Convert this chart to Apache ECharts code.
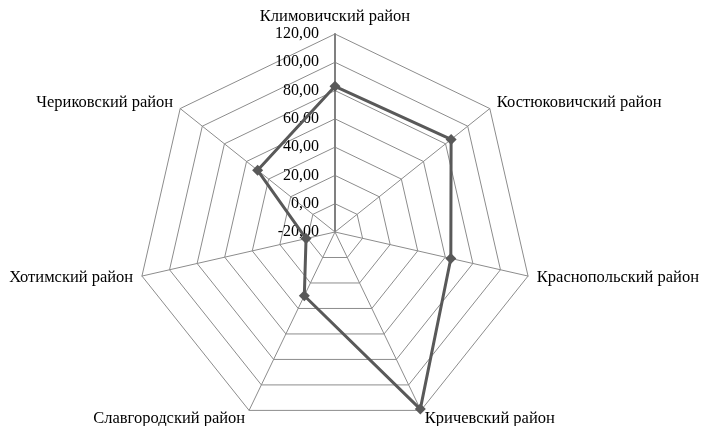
<!DOCTYPE html>
<html>
<head>
<meta charset="utf-8">
<script src="https://cdn.jsdelivr.net/npm/echarts@6/dist/echarts.min.js"></script>
<style>
  html, body { margin: 0; padding: 0; background: #fff; }
  #chart { width: 702px; height: 426px; }
</style>
</head>
<body>
<div id="chart"></div>
<script>
// районы (по часовой стрелке от верха)
const districts = [
  'Климовичский район',
  'Костюковичский район',
  'Краснопольский район',
  'Кричевский район',
  'Славгородский район',
  'Хотимский район',
  'Чериковский район'
];
const values = [83, 85, 64, 119, 30, 1, 50];
const axisMin = -20;
const axisMax = 120;

// echarts рисует радар против часовой стрелки, поэтому переставляем оси
const order = [0, 6, 5, 4, 3, 2, 1];

const chart = echarts.init(document.getElementById('chart'));
const font = '"Liberation Serif", "Times New Roman", serif';

const option = {
  animation: false,
  textStyle: { fontFamily: font },
  radar: {
    center: [335, 232],
    radius: 198,
    startAngle: 90,
    splitNumber: 7,
    shape: 'polygon',
    nameGap: 9,
    axisName: { color: '#000', fontSize: 16.5, fontFamily: font },
    splitArea: { show: false },
    splitLine: { lineStyle: { color: '#8c8c8c', width: 1 } },
    axisLine: { lineStyle: { color: '#8c8c8c', width: 1 } },
    axisTick: { show: false },
    axisLabel: {
      show: false,
      color: '#000',
      fontSize: 16,
      fontFamily: font,
      margin: 16,
      formatter: v => v.toFixed(2).replace('.', ',')
    },
    indicator: order.map((k, i) => ({
      name: districts[k],
      min: axisMin,
      max: axisMax,
      // подписи шкалы только на первой оси
      axisLabel: { show: i === 0 },
      axisLine: { lineStyle: { width: i === 0 ? 2 : 1, color: i === 0 ? '#808080' : '#8c8c8c' } }
    }))
  },
  series: [{
    type: 'radar',
    symbol: 'diamond',
    symbolSize: 11,
    lineStyle: { color: '#595959', width: 3 },
    itemStyle: { color: '#595959' },
    data: [{ value: order.map(k => values[k]) }]
  }]
};

chart.setOption(option);
</script>
</body>
</html>
